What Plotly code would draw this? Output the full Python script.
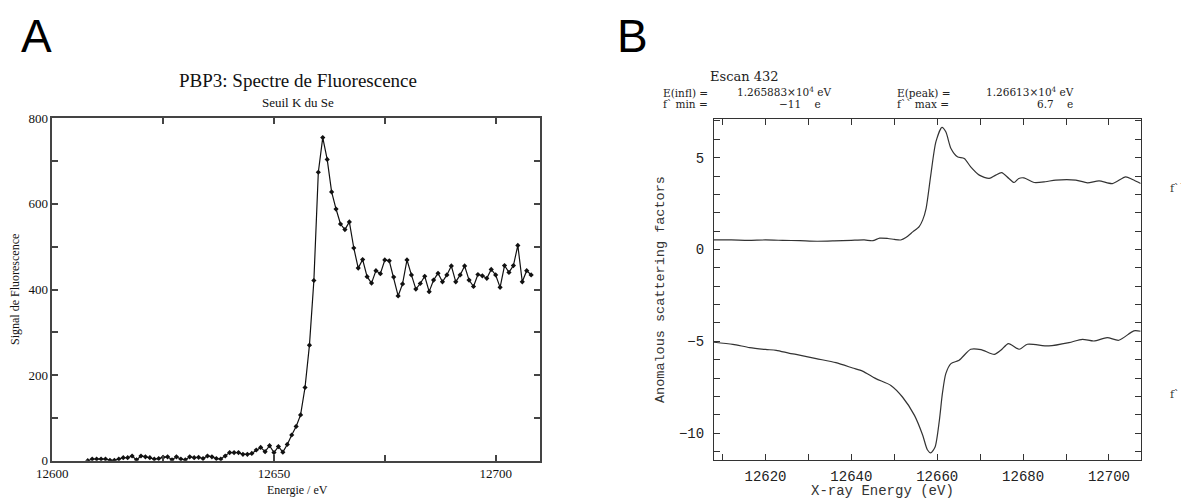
import plotly.graph_objects as go

W, H = 1181, 500

# ---------------- Panel A data: fluorescence scan (Se K edge) ----------------
energy_a = list(range(12608, 12709))
signal_a = [
    0, 4, 4, 4, 4, 1, 1, 4, 7, 7,
    11, 2, 11, 9, 7, 4, 5, 8, 9, 2,
    9, 4, 2, 9, 7, 8, 5, 11, 9, 5,
    4, 11, 19, 19, 19, 15, 15, 17, 25, 31,
    21, 35, 19, 33, 20, 38, 60, 80, 107, 171,
    270, 421, 674, 755, 704, 628, 588, 553, 540, 558,
    497, 450, 470, 430, 415, 444, 437, 469, 467, 429,
    385, 413, 469, 434, 401, 414, 431, 395, 422, 438,
    418, 434, 455, 418, 434, 455, 422, 407, 435, 432,
    426, 447, 434, 405, 456, 440, 456, 503, 418, 444,
    434,
]
a_xticks = [12600, 12650, 12700]
a_xtext = ["12600", "12650", "12700"]
a_xminor = [12625, 12675]
a_yticks = [0, 200, 400, 600, 800]
a_ytext = ["0", "200", "400", "600", "800"]
a_yminor = [100, 300, 500, 700]

# ---------------- Panel B data: anomalous scattering factors ----------------
energy_fpp = [12608, 12612, 12616, 12620, 12624, 12628, 12632, 12636, 12640, 12643,
              12645, 12646.6, 12648.5, 12650, 12651.5, 12652.7, 12654.3, 12655.8,
              12656.6, 12657.4, 12658.5, 12659.7, 12661.1, 12662.0, 12663.2, 12664.7,
              12666.3, 12667.8, 12669.8, 12672.1, 12673.6, 12675.0, 12676.7, 12677.9,
              12679.0, 12680.2, 12682.6, 12685.2, 12687.6, 12692.3, 12695.0, 12697.7,
              12700.8, 12703.9, 12705.5, 12707.4]
fpp = [0.52, 0.52, 0.50, 0.52, 0.50, 0.48, 0.45, 0.47, 0.50, 0.52,
       0.48, 0.62, 0.60, 0.55, 0.52, 0.65, 0.96, 1.25,
       1.60, 2.23, 4.05, 5.87, 6.65, 6.41, 5.50, 5.05,
       4.96, 4.50, 4.05, 3.87, 4.05, 4.19, 3.87, 3.65,
       3.87, 3.90, 3.65, 3.69, 3.78, 3.78, 3.63, 3.74,
       3.59, 3.96, 3.81, 3.59]

energy_fp = [12608, 12612.4, 12616.3, 12620, 12622.5, 12625.6, 12627.1, 12631.8,
             12636.4, 12640.3, 12642.6, 12645.7, 12649.2, 12651.9, 12654.7, 12656.6,
             12657.7, 12658.5, 12659.5, 12660.5, 12661.2, 12662.0, 12663.2, 12665.1,
             12667.8, 12670.2, 12673.3, 12674.8, 12676.6, 12679.1, 12681.0, 12686.0,
             12690.7, 12693.8, 12696.5, 12699.6, 12702.3, 12705.8, 12707.4]
fp = [-5.05, -5.16, -5.34, -5.44, -5.49, -5.65, -5.71, -5.94,
      -6.16, -6.45, -6.62, -7.03, -7.40, -8.03, -9.03, -10.1,
      -10.9, -11.07, -10.75, -9.3, -7.85, -6.76, -6.21, -6.03,
      -5.43, -5.45, -5.71, -5.49, -5.12, -5.43, -5.16, -5.25,
      -5.07, -4.89, -4.98, -4.80, -4.94, -4.43, -4.45]

b_xticks = [12620, 12640, 12660, 12680, 12700]
b_xtext = ["12620", "12640", "12660", "12680", "12700"]
b_xminor = [12610, 12630, 12650, 12670, 12690]
b_yticks = [-10, -5, 0, 5]
b_ytext = ["−10", "−5", "0", "5"]
b_yminor = [-11, -9, -8, -7, -6, -4, -3, -2, -1, 1, 2, 3, 4, 6, 7]


def px(x):
    return x / W


def py(y):
    return 1 - y / H


fig = go.Figure()
fig.add_trace(go.Scatter(
    x=energy_a, y=signal_a, mode="lines+markers", xaxis="x", yaxis="y",
    line=dict(color="#111111", width=1.2),
    marker=dict(symbol="diamond", size=4, color="#111111"),
    showlegend=False, hoverinfo="skip"))
fig.add_trace(go.Scatter(
    x=energy_fpp, y=fpp, mode="lines", xaxis="x2", yaxis="y2",
    line=dict(color="#333333", width=1.2, shape="spline", smoothing=0.7),
    showlegend=False, hoverinfo="skip"))
fig.add_trace(go.Scatter(
    x=energy_fp, y=fp, mode="lines", xaxis="x2", yaxis="y2",
    line=dict(color="#333333", width=1.2, shape="spline", smoothing=0.7),
    showlegend=False, hoverinfo="skip"))

serif = "Liberation Serif"
mono = "Liberation Mono"

axis_common = dict(showgrid=False, zeroline=False, showline=True, mirror="allticks",
                   ticks="inside", ticklen=6, fixedrange=True, automargin=False)


def minor(vals, color, width):
    return dict(tickmode="array", tickvals=vals, ticks="inside", ticklen=6,
                tickcolor=color, tickwidth=width, showgrid=False)


fig.update_layout(
    width=W, height=H,
    margin=dict(l=0, r=0, t=0, b=0, pad=0, autoexpand=False),
    paper_bgcolor="white", plot_bgcolor="white", showlegend=False,
    xaxis=dict(domain=[px(52.3), px(540)], anchor="y", range=[12600, 12710],
               tickmode="array", tickvals=a_xticks, ticktext=a_xtext,
               minor=minor(a_xminor, "#444444", 1.5),
               linecolor="#444444", linewidth=1.5, tickcolor="#444444", tickwidth=1.5,
               tickfont=dict(family=serif, size=13, color="#111111"),
               ticklabelstandoff=0, **axis_common),
    yaxis=dict(domain=[py(460.7), py(118.3)], anchor="x", range=[0, 800],
               tickmode="array", tickvals=a_yticks, ticktext=a_ytext,
               minor=minor(a_yminor, "#444444", 1.5),
               linecolor="#444444", linewidth=1.5, tickcolor="#444444", tickwidth=1.5,
               tickfont=dict(family=serif, size=13, color="#111111"),
               ticklabelstandoff=0, **axis_common),
    xaxis2=dict(domain=[px(714), px(1140.7)], anchor="y2", range=[12608, 12707.4],
                tickmode="array", tickvals=b_xticks, ticktext=b_xtext,
                minor=minor(b_xminor, "#333333", 1),
                linecolor="#333333", linewidth=1.2, tickcolor="#333333", tickwidth=1,
                tickfont=dict(family=mono, size=14, color="#222222"),
                ticklabelstandoff=3, **axis_common),
    yaxis2=dict(domain=[py(460), py(119.3)], anchor="x2", range=[-11.46, 7.09],
                tickmode="array", tickvals=b_yticks, ticktext=b_ytext,
                minor=minor(b_yminor, "#333333", 1),
                linecolor="#333333", linewidth=1.2, tickcolor="#333333", tickwidth=1,
                tickfont=dict(family=mono, size=14, color="#222222"),
                ticklabelstandoff=6, **axis_common),
)


def note(text, x, y, size, family, color="#111111", xanchor="center", angle=0):
    fig.add_annotation(text=text, x=px(x), y=py(y), xref="paper", yref="paper",
                       showarrow=False, xanchor=xanchor, yanchor="middle",
                       textangle=angle, font=dict(size=size, family=family, color=color))


# panel letters
note("A", 36, 36, 46, "Liberation Sans", "#000000")
note("B", 632, 36, 46, "Liberation Sans", "#000000")

# panel A texts
note("PBP3: Spectre de Fluorescence", 298, 80, 19, serif)
note("Seuil K du Se", 298, 103, 13, serif)
note("Energie / eV", 297, 490, 12, serif)
note("Signal de Fluorescence", 15, 290, 12, serif, angle=-90)

# panel B texts
hdr = "DejaVu Serif"
note("Escan 432", 708, 76, 13, hdr, "#222222", xanchor="left")
note("E(infl) =", 661, 93, 10.5, hdr, "#222222", xanchor="left")
note("1.265883×10<sup>4</sup> eV", 735, 92, 10.5, hdr, "#222222", xanchor="left")
note("E(peak) =", 895, 93, 10.5, hdr, "#222222", xanchor="left")
note("1.26613×10<sup>4</sup> eV", 984, 92, 10.5, hdr, "#222222", xanchor="left")
note("f` min =", 661, 104, 10.5, hdr, "#222222", xanchor="left")
note("−11    e", 823, 104, 10.5, hdr, "#222222", xanchor="right")
note("f`` max =", 895, 104, 10.5, hdr, "#222222", xanchor="left")
note("6.7    e", 1075, 104, 10.5, hdr, "#222222", xanchor="right")

note("Anomalous scattering factors", 660, 289, 13.5, mono, "#333333", angle=-90)
note("X-ray Energy (eV)", 882, 491, 14, mono, "#333333")
note("f``", 1168, 188, 11, hdr, "#333333", xanchor="left")
note("f`", 1168, 394, 11, hdr, "#333333", xanchor="left")

fig.write_html("out.html", config={"displayModeBar": False},
               post_script="document.body.style.margin='0';")
